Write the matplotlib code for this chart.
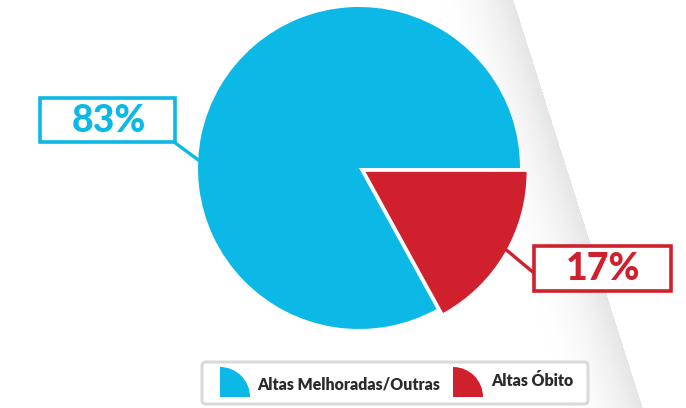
import numpy as np
import matplotlib
matplotlib.use("Agg")
import matplotlib.pyplot as plt
from matplotlib.patches import Rectangle, FancyBboxPatch, Wedge

categories = ["Altas Melhoradas/Outras", "Altas Óbito"]
values = [83, 17]
labels = ["83%", "17%"]
colors = ["#0BB8E6", "#D0202D"]

W, H = 686, 408
fig = plt.figure(figsize=(W / 100, H / 100), dpi=100)
ax = fig.add_axes([0, 0, 1, 1])

def py(y):
    return H - y

# background grey gradient band
xs = np.arange(W)
ys = np.arange(H)
X, Y = np.meshgrid(xs, ys)
edge = 513 + 0.317 * Y
d = edge - X
shade = np.where((d >= 0), np.clip(1 - d / 75.0, 0, 1), 0.0)
grey = 1 - 0.10 * shade ** 1.8
img = np.dstack([grey, grey, grey])
ax.imshow(img, extent=(0, W, 0, H), origin="upper", zorder=0, aspect="auto")

cx, cy, R = 359, 168, 161
wedges, _ = ax.pie(values, colors=colors, startangle=0, counterclock=True,
                   center=(cx, py(cy)), radius=R, explode=[0, 7.6],
                   frame=True, wedgeprops=dict(linewidth=0))
for w in wedges:
    w.set_zorder(2)
ax.set_xlim(0, W)
ax.set_ylim(0, H)
ax.set_aspect("auto")
ax.axis("off")

font = "Lato"

# label boxes
def label_box(x0, y0, x1, y1, text, color, line):
    ax.add_patch(Rectangle((x0, py(y1)), x1 - x0, y1 - y0, facecolor="white",
                           edgecolor=color, linewidth=2.6, zorder=4))
    ax.text((x0 + x1) / 2 + 1, py((y0 + y1) / 2) - 1, text, ha="center", va="center",
            color=color, fontsize=27, fontweight="black", family=font, zorder=5)
    (lx0, ly0), (lx1, ly1) = line
    ax.plot([lx0, lx1], [py(ly0), py(ly1)], color=color, linewidth=2.4, zorder=3,
            solid_capstyle="butt")

label_box(40, 98, 175, 142, labels[0], colors[0], ((174, 142), (201, 162)))
label_box(534, 246, 671, 291, labels[1], colors[1], ((504, 248), (534, 273)))

# legend
ax.add_patch(FancyBboxPatch((202, py(404)), 386, 42,
                            boxstyle="round,pad=0,rounding_size=4",
                            facecolor="white", edgecolor="#DADADA", linewidth=2.2, zorder=4))
def icon(x, y, color):
    ax.add_patch(Wedge((x, py(y)), 30, 0, 90, facecolor=color, edgecolor="none", zorder=5))
icon(220, 397, colors[0])
icon(453, 397, colors[1])
ax.text(257, py(384), categories[0], ha="left", va="center", fontsize=11.4,
        fontweight="heavy", color="#2B2B2B", family=font, zorder=5)
ax.text(491, py(381), categories[1], ha="left", va="center", fontsize=11.4,
        fontweight="heavy", color="#2B2B2B", family=font, zorder=5)

fig.savefig("out.png", dpi=100)
